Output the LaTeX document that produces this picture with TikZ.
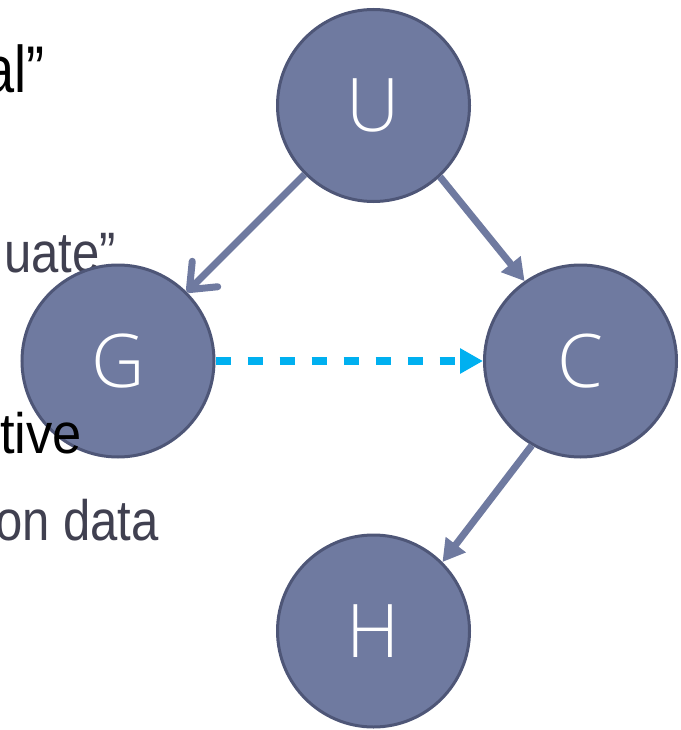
\documentclass[tikz,border=0pt]{standalone}
\usepackage{fontspec}
\setmainfont{Liberation Sans}
\newfontfamily\narrowfont{Liberation Sans}[FakeStretch=0.82]
\newfontfamily\grayfont{Liberation Sans}[FakeStretch=0.86]
\newfontfamily\tivefont{Liberation Sans}[FakeStretch=0.92]
\newfontfamily\lightfont{Open Sans}[UprightFont=* Light]
\usetikzlibrary{arrows.meta}
\definecolor{nodefill}{RGB}{111,122,160}
\definecolor{nodedraw}{RGB}{78,86,119}
\definecolor{dashcyan}{RGB}{0,176,240}
\definecolor{graytext}{RGB}{64,64,80}
\begin{document}
\begin{tikzpicture}[x=1pt,y=-1pt,
  bnode/.style={circle, fill=nodefill, draw=nodedraw, line width=3pt,
    minimum size=192pt, inner sep=0pt, text=white,
    font=\lightfont\fontsize{74}{74}\selectfont},
  bgtext/.style={anchor=base east, inner sep=0pt},
  openarrow/.style={draw=nodefill, line width=7pt,
    -{Straight Barb[length=22pt,width=36pt,round]}},
  filledarrow/.style={draw=nodefill, line width=7pt,
    -{Triangle[length=22pt,width=24pt,fill=nodefill]}},
  dasharrow/.style={draw=dashcyan, line width=7.5pt,
    dash pattern=on 15pt off 17pt,
    -{Triangle[length=23pt,width=24pt,fill=dashcyan]}}]
\clip (0,0) rectangle (680,730);
% background text (partially hidden)
\node[bgtext, font=\narrowfont\fontsize{66}{66}\selectfont, text=black] (t1) at (45,93) {al”};
\node[bgtext, font=\grayfont\fontsize{57}{57}\selectfont, text=graytext] (t2) at (116,272) {uate”};
% nodes
\node[bnode] (U) at (373.5,105.5) {U};
\node[bnode] (G) at (118,361) {G};
\node[bnode] (C) at (580.5,361) {C};
\node[bnode] (H) at (373.5,631) {H};
% foreground text
\node[bgtext, font=\tivefont\fontsize{57}{57}\selectfont, text=black] (t3) at (82,453) {tive};
\node[bgtext, font=\grayfont\fontsize{57}{57}\selectfont, text=graytext] (t4) at (159,540) {on data};
% edges
\draw[openarrow] (U.225) -- (G.45);
\draw[filledarrow] (U.313) -- (C.125);
\draw[filledarrow] (C.240) -- (H.45);
\draw[dasharrow] (G.east) -- (C.west);
\end{tikzpicture}
\end{document}
